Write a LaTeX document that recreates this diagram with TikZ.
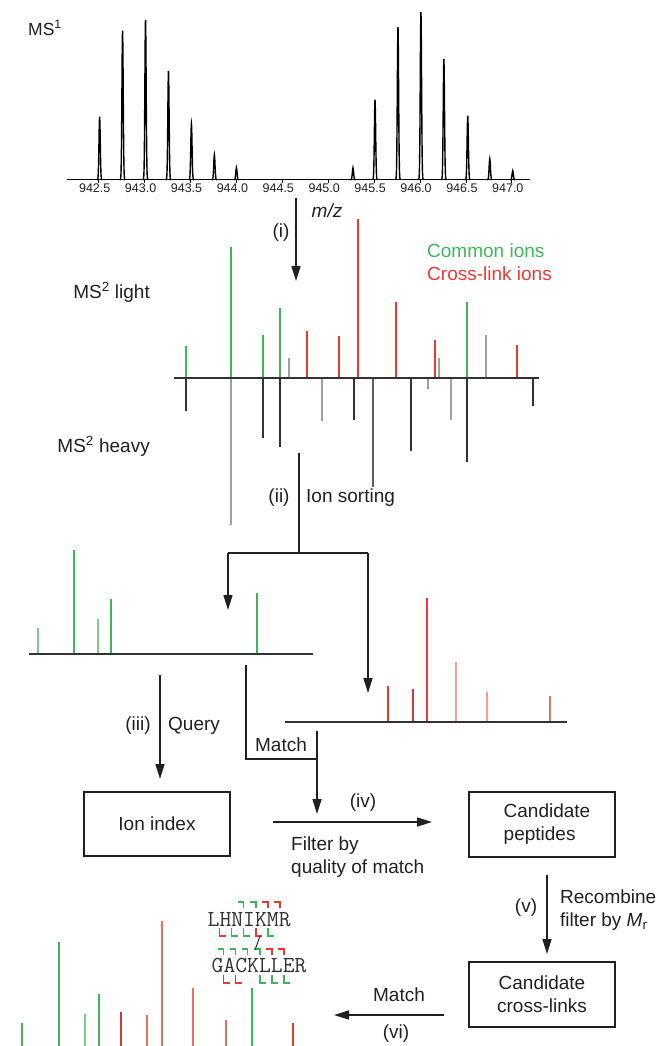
\documentclass[tikz,border=0pt]{standalone}
\usepackage{fontspec}
\setmainfont{Liberation Sans}
\usetikzlibrary{arrows.meta}

\definecolor{ink}{RGB}{35,31,32}
\definecolor{cgreen}{RGB}{64,180,92}
\definecolor{lgreen}{RGB}{125,200,140}
\definecolor{cred}{RGB}{234,56,52}
\definecolor{dred}{RGB}{200,60,70}
\definecolor{pinkred}{RGB}{245,160,150}
\definecolor{salmon}{RGB}{232,112,95}
\definecolor{lgray}{RGB}{160,160,160}
\definecolor{mgray}{RGB}{95,95,95}
\definecolor{dgray}{RGB}{50,50,50}

\tikzset{
  lbl/.style={inner sep=0pt, text=ink, font=\fontsize{19}{23}\selectfont},
  procbox/.style={draw=ink, line width=2.4pt, minimum width=146pt, minimum height=64pt,
    align=left, text=ink, font=\fontsize{19}{23}\selectfont},
  flow/.style={draw=ink, line width=1.6pt, -{Triangle[length=15pt,width=9pt]}},
  link/.style={draw=ink, line width=1.6pt},
  axis/.style={draw=dgray, line width=1.8pt},
  pk/.style={line width=1.6pt},
  ms1pk/.style={draw=black, line width=1.4pt},
  pep/.style={inner sep=0pt, text=dgray, font=\ttfamily\fontsize{23}{23}\selectfont},
  frag/.style={line width=1.3pt},
}

\begin{document}
\begin{tikzpicture}[x=1pt,y=-1pt]
\useasboundingbox (0,0) rectangle (663,1046);

% MS1 spectrum
\node[lbl, font=\fontsize{17.5}{19}\selectfont] (ms1) at (45,28) {MS\textsuperscript{1}};
\draw[draw=black, line width=1.2pt] (67,179.8) -- (530,179.8);
\foreach \m/\h in {942.51/63,942.76/149,943.01/160,943.26/109,943.51/56,943.76/25,944.0/12,
                   945.27/12,945.51/80,945.76/153,946.01/168,946.26/121,946.52/64,946.76/21,947.01/9}{
  \pgfmathsetmacro\px{144.6+(\m-943)*91.8}
  \draw[ms1pk] plot[variable=\t, domain=-2.6:2.6, samples=15, smooth]
    ({\px+\t},{179.8-\h*exp(-\t*\t/0.8)});
}
\foreach \v [count=\i] in {942.5,943.0,943.5,944.0,944.5,945.0,945.5,946.0,946.5,947.0}{
  \pgfmathsetmacro\px{144.6+(\v-943)*91.8}
  \draw[line width=0.8pt] (\px,179.8) -- (\px,183);
  \node[lbl, font=\fontsize{12.5}{13}\selectfont] (tl\i) at (\px-4,188.5) {\v};
}
\node[lbl] (mz) at (327,211) {\textit{m/z}};

% (i)
\coordinate (itop) at (296,198);
\coordinate (itip) at (296,281);
\draw[flow] (itop) -- (itip);
\node[lbl] (i) at (281,233) {(i)};

% legend
\node[lbl, anchor=west, text=cgreen] (common) at (427,251) {Common ions};
\node[lbl, anchor=west, text=cred] (xlink) at (427,274) {Cross-link ions};

% MS2 light / heavy
\node[lbl, anchor=base east] (light) at (150,298) {MS\textsuperscript{2} light};
\node[lbl, anchor=base east] (heavy) at (150,452) {MS\textsuperscript{2} heavy};
\foreach \x/\t/\c in {186/346/cgreen,231/247/cgreen,263/335/cgreen,280/308/cgreen,289/358/lgray,
                      307/331/cred,339/336/cred,358/219/cred,396/302/cred,435/340/cred,439/358/lgray,
                      467/302/cgreen,486/335/lgray,517/345/cred}
  \draw[pk, \c] (\x,378) -- (\x,\t);
\foreach \x/\t/\c in {186/411/dgray,231/525/lgray,263/438/dgray,280/447/dgray,322/421/lgray,
                      354/420/dgray,373/487/mgray,411/451/dgray,428/389/lgray,451/420/lgray,
                      467/462/dgray,533/406/dgray}
  \draw[pk, \c] (\x,378) -- (\x,\t);
\draw[axis] (174,378) -- (539,378);

% (ii) ion sorting
\coordinate (iitop) at (299,453);
\coordinate (iijoin) at (299,553);
\coordinate (iil) at (228,553);
\coordinate (iir) at (368,553);
\coordinate (greentip) at (228,610);
\coordinate (redtip) at (368,693);
\draw[link] (iitop) -- (iijoin);
\draw[link] (iil) -- (iir);
\draw[flow] (iil) -- (greentip);
\draw[flow] (iir) -- (redtip);
\node[lbl] (ii) at (279,498) {(ii)};
\node[lbl, anchor=west] (sort) at (306,498) {Ion sorting};

% common-ion spectrum
\foreach \x/\t/\c in {38/628/lgreen,74/550/cgreen,98/619/lgreen,111/599/cgreen,257/593/cgreen}
  \draw[line width=1.3pt, \c] (\x,654) -- (\x,\t);
\draw[axis, line width=1.5pt] (29,654) -- (313,654);

% cross-link-ion spectrum
\foreach \x/\t/\c in {388/686/cred,413/689/dred,427/598/cred,456/662/pinkred,487/692/pinkred,550/696/salmon}
  \draw[line width=1.3pt, \c] (\x,722) -- (\x,\t);
\draw[axis, line width=1.5pt] (285,722) -- (567,722);

% (iii) query
\coordinate (qtop) at (160,675);
\coordinate (qtip) at (160,779);
\draw[flow] (qtop) -- (qtip);
\node[lbl] (iii) at (138,726) {(iii)};
\node[lbl, anchor=west] (query) at (168,726) {Query};

% match
\coordinate (mtop) at (246,665);
\coordinate (mcorner) at (246,759);
\coordinate (mjoin) at (317,759);
\coordinate (mstart) at (317,731);
\coordinate (mtip) at (317,814);
\draw[link] (mtop) -- (mcorner) -- (mjoin);
\draw[flow] (mstart) -- (mtip);
\node[lbl] (match) at (281,745) {Match};

% boxes
\node[procbox] (ionidx) at (157,824) {Ion index};
\node[procbox, minimum height=65pt] (candpep) at (542,824.5) {\hspace*{10pt}Candidate\\\hspace*{10pt}peptides};
\node[procbox, minimum height=65pt, align=center] (candxl) at (542,994.5) {Candidate\\cross-links};

% (iv) filter
\coordinate (ivstart) at (273,822);
\coordinate (ivtip) at (432,822);
\draw[flow] (ivstart) -- (ivtip);
\node[lbl] (iv) at (363,803) {(iv)};
\node[lbl, anchor=west, align=left] (filter) at (291,857.5) {Filter by\\quality of match};

% (v) recombine
\coordinate (vstart) at (547,875);
\coordinate (vtip) at (547,954);
\draw[flow] (vstart) -- (vtip);
\node[lbl] (v) at (526,908) {(v)};
\node[lbl, anchor=west, align=left] (recomb) at (560,910) {Recombine\\filter by \textit{M}\textsubscript{r}};

% (vi) match
\coordinate (vistart) at (444,1015);
\coordinate (vitip) at (334,1015);
\draw[flow] (vistart) -- (vitip);
\node[lbl] (match2) at (399,995) {Match};
\node[lbl] (vi) at (396,1034) {(vi)};

% annotated spectrum
\foreach \x/\t/\c in {22/1023/cgreen,59/942/cgreen,85/1014/lgreen,99/994/cgreen,121/1012/dred,
                      147/1015/salmon,162/921/salmon,193/988/salmon,226/1020/salmon,252/988/cgreen,293/1023/cred}
  \draw[line width=1.3pt, \c] (\x,1046) -- (\x,\t);

% cross-linked peptides
\node[pep, anchor=base west] (pepa) at (207.5,926) {LHNIKMR};
\node[pep, anchor=base west] (pepb) at (211.5,972) {GACKLLER};
\foreach \k/\c in {3/cgreen,4/cgreen,5/cred,6/cred}
  \draw[frag, \c] ({207.5+\k*12.1-6},902) -- ({207.5+\k*12.1},902) -- ({207.5+\k*12.1},908);
\foreach \k/\c in {1/cred,2/cgreen,3/cgreen,4/cred,5/cgreen}
  \draw[frag, \c] ({207.5+\k*12.1},928) -- ({207.5+\k*12.1},936) -- ({207.5+\k*12.1+6},936);
\foreach \k/\c in {1/cgreen,2/cgreen,3/cgreen,4/cgreen,5/cred,6/cred}
  \draw[frag, \c] ({211.5+\k*12.1-6},949) -- ({211.5+\k*12.1},949) -- ({211.5+\k*12.1},955);
\foreach \k/\c in {1/cred,2/cred,4/cgreen,5/cgreen,6/cgreen}
  \draw[frag, \c] ({211.5+\k*12.1},975) -- ({211.5+\k*12.1},983) -- ({211.5+\k*12.1+6},983);
\draw[line width=1pt, dgray] (260,936) -- (255,950);
\end{tikzpicture}
\end{document}
